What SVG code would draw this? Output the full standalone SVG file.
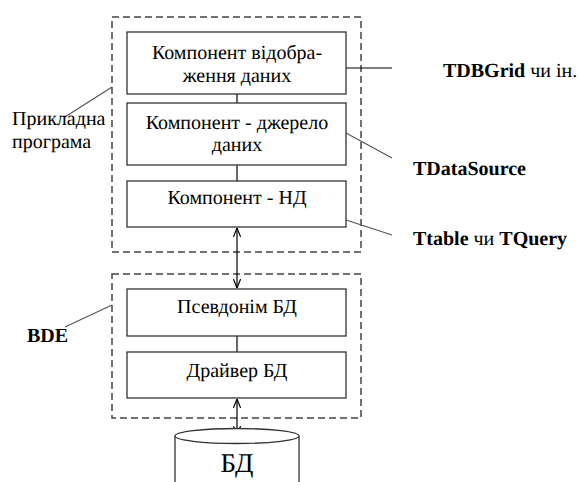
<svg xmlns="http://www.w3.org/2000/svg" width="582" height="482" viewBox="0 0 582 482">
<style>
.box{fill:#fff;stroke:#333;stroke-width:1.3}
.dash{fill:none;stroke:#444;stroke-width:1.5;stroke-dasharray:7,4}
.lead{stroke:#555;stroke-width:1.2;fill:none}
.con{stroke:#000;stroke-width:1.2;fill:none}
text{text-rendering:geometricPrecision}
</style>
<defs>
<marker id="ah" viewBox="0 0 10 10" refX="10" refY="5" markerWidth="9" markerHeight="9" orient="auto-start-reverse" markerUnits="userSpaceOnUse">
<path d="M0,1 L10,5 L0,9" fill="none" stroke="#000" stroke-width="1.3"/>
</marker>
</defs>
<g id="app-group">
<rect class="dash" x="112" y="17" width="249" height="235"/>
</g>
<g id="bde-group">
<rect class="dash" x="112" y="274" width="249" height="144"/>
</g>
<g id="connectors">
<line class="con" x1="237" y1="94" x2="237" y2="103"/>
<line class="con" x1="237" y1="165" x2="237" y2="181"/>
<line class="con" x1="237" y1="336" x2="237" y2="352"/>
<line class="con" x1="237" y1="228" x2="237" y2="288" marker-start="url(#ah)" marker-end="url(#ah)"/>
<line class="con" x1="237" y1="399" x2="237" y2="435" marker-start="url(#ah)" marker-end="url(#ah)"/>
<line class="lead" x1="112" y1="87" x2="65" y2="117"/>
<line class="lead" x1="112" y1="305" x2="65" y2="327"/>
<line class="con" x1="346" y1="68" x2="392" y2="68"/>
<line class="lead" x1="346" y1="133" x2="392" y2="158"/>
<line class="lead" x1="346" y1="220" x2="392" y2="235"/>
</g>
<g font-family="Liberation Serif" font-size="20" fill="#000" text-anchor="middle" text-rendering="geometricPrecision">
<g id="n1">
<rect class="box" x="127" y="32" width="219" height="62"/>
<text x="237" y="59">Компонент відобра-</text>
<text x="237" y="82">ження даних</text>
</g>
<g id="n2">
<rect class="box" x="127" y="103" width="219" height="62"/>
<text x="237" y="129">Компонент - джерело</text>
<text x="237" y="151">даних</text>
</g>
<g id="n3">
<rect class="box" x="127" y="181" width="219" height="46"/>
<text x="237" y="204">Компонент - НД</text>
</g>
<g id="n4">
<rect class="box" x="127" y="289" width="219" height="47"/>
<text x="237" y="313">Псевдонім БД</text>
</g>
<g id="n5">
<rect class="box" x="127" y="352" width="219" height="46"/>
<text x="237" y="377">Драйвер БД</text>
</g>
<g id="db">
<path d="M175,436 L175,490 M299,436 L299,490" fill="none" stroke="#333" stroke-width="1.3"/>
<ellipse cx="237" cy="436" rx="62" ry="7.5" fill="#fff" stroke="#333" stroke-width="1.3"/>
<text x="237" y="472" font-size="27">БД</text>
</g>
</g>
<g id="labels" font-family="Liberation Serif" font-size="20" fill="#000" text-rendering="geometricPrecision">
<text x="12" y="125">Прикладна</text>
<text x="12" y="148">програма</text>
<text x="27" y="342" font-weight="bold">BDE</text>
<text x="443" y="77"><tspan font-weight="bold">TDBGrid</tspan> чи ін.</text>
<text x="413" y="175" font-weight="bold">TDataSource</text>
<text x="413" y="245"><tspan font-weight="bold">Ttable</tspan> чи <tspan font-weight="bold">TQuery</tspan></text>
</g>
</svg>
